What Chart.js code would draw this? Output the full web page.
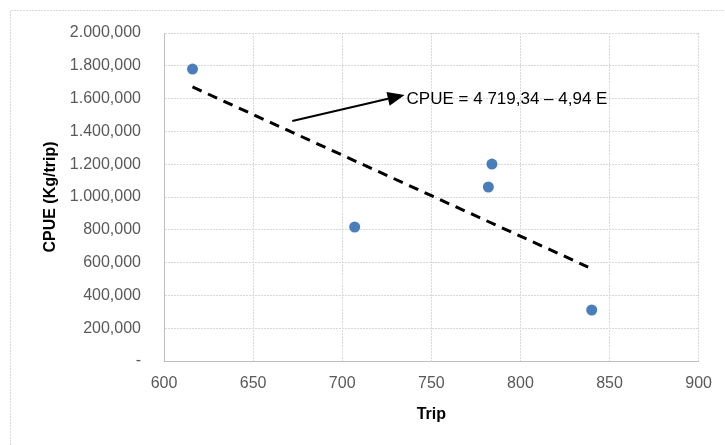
<!DOCTYPE html>
<html>
<head>
<meta charset="utf-8">
<script src="https://cdn.jsdelivr.net/npm/chart.js@4.4.1/dist/chart.umd.min.js"></script>
<style>
  html, body { margin: 0; padding: 0; background: #fff; }
  #wrap { width: 725px; height: 445px; }
</style>
</head>
<body>
<div id="wrap"><canvas id="c" width="725" height="445"></canvas></div>
<script>
// observed trips vs CPUE
const trips = [616, 707, 782, 784, 840];
const cpue = [1780000, 817000, 1061000, 1201000, 311000];

// fitted line end points
const trendX = [616, 838];
const trendY = [1671000, 573000];

// arrow (tail, head) and equation label
const arrowX = [672, 735];
const arrowY = [1463000, 1622000];
const equation = "CPUE = 4 719,34 – 4,94 E";

const yTickLabels = ["-", "200,000", "400,000", "600,000", "800,000", "1.000,000",
  "1.200,000", "1.400,000", "1.600,000", "1.800,000", "2.000,000"];

const FONT = '"Liberation Sans", Arial, sans-serif';

const frame = {
  id: "frame",
  beforeDraw(chart) {
    const ctx = chart.ctx;
    ctx.save();
    ctx.fillStyle = "#fff";
    ctx.fillRect(0, 0, chart.width, chart.height);
    ctx.strokeStyle = "#d9d9d9";
    ctx.lineWidth = 1;
    ctx.setLineDash([2, 1]);
    ctx.beginPath();
    ctx.moveTo(10.5, chart.height);
    ctx.lineTo(10.5, 10.5);
    ctx.lineTo(chart.width, 10.5);
    ctx.stroke();
    ctx.restore();
  }
};

const arrow = {
  id: "arrow",
  afterDatasetsDraw(chart) {
    const { ctx, scales: { x, y } } = chart;
    const x0 = x.getPixelForValue(arrowX[0]), y0 = y.getPixelForValue(arrowY[0]);
    const x1 = x.getPixelForValue(arrowX[1]), y1 = y.getPixelForValue(arrowY[1]);
    const a = Math.atan2(y1 - y0, x1 - x0);
    const len = 17, half = 7;
    ctx.save();
    ctx.strokeStyle = "#000";
    ctx.fillStyle = "#000";
    ctx.lineWidth = 2;
    ctx.beginPath();
    ctx.moveTo(x0, y0);
    ctx.lineTo(x1 - Math.cos(a) * len, y1 - Math.sin(a) * len);
    ctx.stroke();
    const bx = x1 - Math.cos(a) * len, by = y1 - Math.sin(a) * len;
    ctx.beginPath();
    ctx.moveTo(x1, y1);
    ctx.lineTo(bx + Math.sin(a) * half, by - Math.cos(a) * half);
    ctx.lineTo(bx - Math.sin(a) * half, by + Math.cos(a) * half);
    ctx.closePath();
    ctx.fill();
    ctx.font = "17px " + FONT;
    ctx.textBaseline = "middle";
    ctx.textAlign = "left";
    ctx.fillText(equation, x1 + 2, y1 + 4);
    ctx.restore();
  }
};

new Chart(document.getElementById("c"), {
  type: "scatter",
  data: {
    datasets: [
      {
        label: "CPUE",
        data: trips.map((t, i) => ({ x: t, y: cpue[i] })),
        backgroundColor: "#4a7ebb",
        borderWidth: 0,
        pointRadius: 5.5,
        pointHoverRadius: 5.5
      },
      {
        label: "Trend",
        data: trendX.map((t, i) => ({ x: t, y: trendY[i] })),
        showLine: true,
        borderColor: "#000",
        borderWidth: 3,
        borderDash: [10, 7],
        pointRadius: 0,
        fill: false
      }
    ]
  },
  options: {
    responsive: false,
    animation: false,
    events: [],
    layout: { padding: { left: 0, right: 26, top: 33, bottom: 0 } },
    plugins: { legend: { display: false }, tooltip: { enabled: false } },
    scales: {
      x: {
        type: "linear",
        min: 600,
        max: 900,
        afterFit: (s) => { s.height = 84; },
        ticks: {
          stepSize: 50,
          padding: 13,
          color: "#595959",
          font: { family: FONT, size: 16 }
        },
        grid: { color: "#d9d9d9", drawTicks: false },
        border: { color: "#bfbfbf", width: 1, dash: [2, 1] },
        title: {
          display: true,
          text: "Trip",
          color: "#000",
          font: { family: FONT, size: 16, weight: "bold" },
          padding: { top: 0, bottom: 21 }
        }
      },
      y: {
        min: 0,
        max: 2000000,
        afterFit: (s) => { s.width = 164; },
        ticks: {
          stepSize: 200000,
          padding: 23,
          color: "#595959",
          font: { family: FONT, size: 16 },
          callback: (v, i) => yTickLabels[i]
        },
        grid: { color: "#d9d9d9", drawTicks: false },
        border: { color: "#bfbfbf", width: 1, dash: [2, 1] },
        title: {
          display: true,
          text: "CPUE (Kg/trip)",
          color: "#000",
          font: { family: FONT, size: 16, weight: "bold" },
          padding: { top: 41, bottom: 0 }
        }
      }
    }
  },
  plugins: [frame, arrow]
});
</script>
</body>
</html>
